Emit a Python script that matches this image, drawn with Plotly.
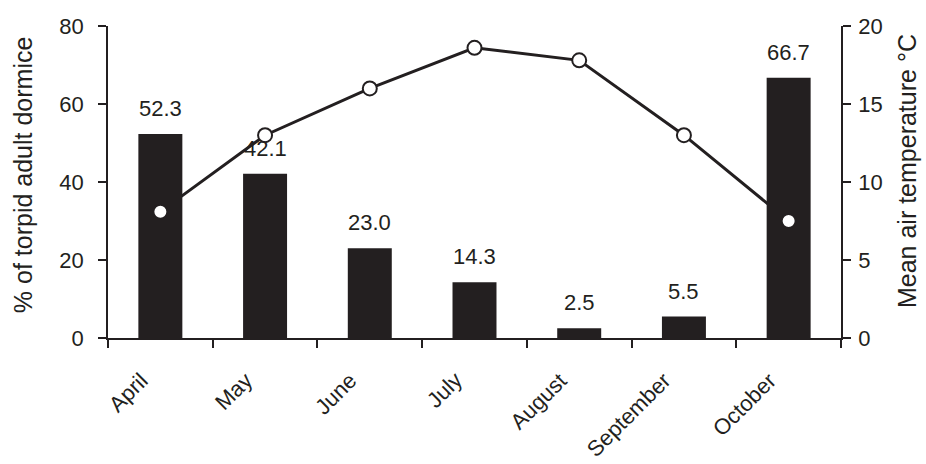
import plotly.graph_objects as go

# Monthly share of torpid adult dormice and mean air temperature
months = ["April", "May", "June", "July", "August", "September", "October"]
torpid_pct = [52.3, 42.1, 23.0, 14.3, 2.5, 5.5, 66.7]
mean_temp = [8.1, 13.0, 16.0, 18.6, 17.8, 13.0, 7.5]
pct_ticks = [0, 20, 40, 60, 80]
temp_ticks = [0, 5, 10, 15, 20]

INK = "#231f20"
FONT = "Liberation Sans, Arial, sans-serif"

fig = go.Figure()

# temperature line (underneath the bars)
fig.add_trace(go.Scatter(
    x=months, y=mean_temp, mode="lines",
    line=dict(color=INK, width=3), yaxis="y", hoverinfo="skip",
))

# torpid percentage bars
fig.add_trace(go.Bar(
    x=months, y=torpid_pct, width=0.42,
    marker=dict(color=INK, line=dict(width=0)), yaxis="y2",
))

# temperature markers drawn on top of the bars
fig.add_trace(go.Scatter(
    x=months, y=mean_temp, mode="markers",
    marker=dict(color="white", size=14, line=dict(color=INK, width=2)),
    yaxis="y3",
))

# value labels above the bars
annotations = [
    dict(x=m, y=v, xref="x", yref="y2", text=f"{v:.1f}", showarrow=False,
         yanchor="bottom", yshift=11, font=dict(size=22, color=INK, family=FONT))
    for m, v in zip(months, torpid_pct)
]
# slanted month labels under the categories
annotations += [
    dict(x=m, y=0, xref="x", yref="paper", text=m, textangle=-45,
         showarrow=False, xanchor="right", yanchor="top", xshift=-5, yshift=-27,
         font=dict(size=22, color=INK, family=FONT))
    for m in months
]
# axis titles
annotations += [
    dict(x=-0.116, y=0.525, xref="paper", yref="paper",
         text="% of torpid adult dormice", textangle=-90, showarrow=False,
         xanchor="center", yanchor="middle",
         font=dict(size=25, color=INK, family=FONT)),
    dict(x=1.09, y=0.535, xref="paper", yref="paper",
         text="Mean air temperature °C", textangle=-90, showarrow=False,
         xanchor="center", yanchor="middle",
         font=dict(size=25, color=INK, family=FONT)),
]

axis_common = dict(
    showline=True, linecolor=INK, linewidth=1.5,
    ticks="outside", ticklen=8, tickwidth=1.5, tickcolor=INK,
    showgrid=False, zeroline=False, automargin=False,
    tickfont=dict(size=22, color=INK, family=FONT),
)

fig.update_layout(
    width=926, height=464,
    margin=dict(l=108, r=85, t=26, b=126),
    paper_bgcolor="white", plot_bgcolor="white",
    showlegend=False,
    font=dict(family=FONT, color=INK),
    xaxis=dict(type="category", tickson="boundaries", showticklabels=False,
               range=[-0.5, len(months) - 0.5], **axis_common),
    yaxis=dict(side="right", range=[0, 20], tickvals=temp_ticks,
               ticklabelstandoff=3, **axis_common),
    yaxis2=dict(side="left", overlaying="y", range=[0, 80], tickvals=pct_ticks,
                ticklabelstandoff=10, **axis_common),
    yaxis3=dict(overlaying="y", range=[0, 20], visible=False),
    annotations=annotations,
)

fig.write_html("out.html")
